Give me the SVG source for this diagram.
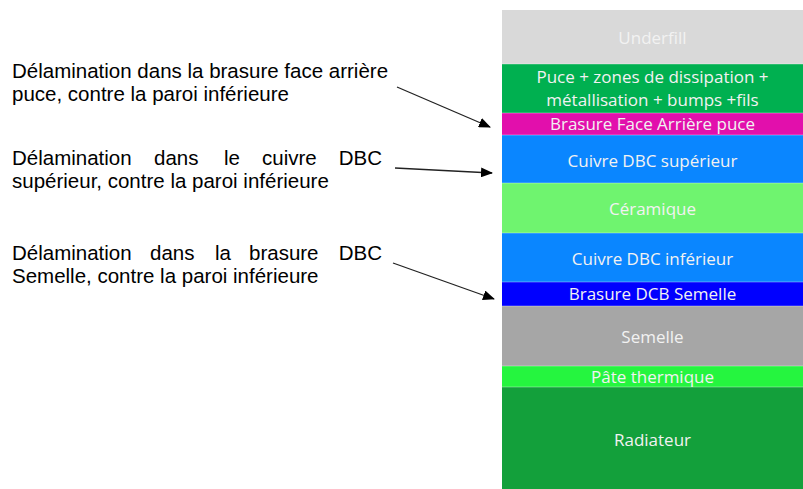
<svg xmlns="http://www.w3.org/2000/svg" width="803" height="489" viewBox="0 0 803 489">
<style>
.lbl{font-family:"Liberation Sans",Arial,sans-serif;font-size:20.5px;fill:#000}
.lay{font-family:"Open Sans","Noto Sans",sans-serif;font-size:17px;fill:#F2F2F2;text-anchor:middle}
.sep{stroke:#ffffff;stroke-opacity:0.35;stroke-width:1}
.con{stroke:#222;stroke-width:1.3;fill:none;marker-end:url(#ah)}
</style>
<defs>
<marker id="ah" viewBox="0 0 12 10" refX="11" refY="5" markerWidth="12" markerHeight="10" markerUnits="userSpaceOnUse" orient="auto">
<path d="M0,0 L12,5 L0,10 Z" fill="#000"/>
</marker>
</defs>
<rect width="803" height="489" fill="#fff"/>
<g id="stack">
<g id="underfill"><rect x="502" y="10" width="301" height="54" fill="#D9D9D9"/><text class="lay" x="652.5" y="44">Underfill</text></g>
<g id="puce"><rect x="502" y="64" width="301" height="49" fill="#00B050"/><text class="lay" x="652.5" y="83">Puce + zones de dissipation +</text><text class="lay" x="652.5" y="106">métallisation + bumps +fils</text></g>
<g id="brasure-face"><rect x="502" y="113" width="301" height="22" fill="#E20FAC"/><text class="lay" x="652.5" y="130">Brasure Face Arrière puce</text></g>
<g id="cuivre-sup"><rect x="502" y="135" width="301" height="48" fill="#0A86FF"/><text class="lay" x="652.5" y="167">Cuivre DBC supérieur</text></g>
<g id="ceramique"><rect x="502" y="183" width="301" height="50" fill="#6FF46F"/><text class="lay" x="652.5" y="215">Céramique</text></g>
<g id="cuivre-inf"><rect x="502" y="233" width="301" height="49" fill="#0A86FF"/><text class="lay" x="652.5" y="265">Cuivre DBC inférieur</text></g>
<g id="brasure-dcb"><rect x="502" y="282" width="301" height="24" fill="#0000FF"/><text class="lay" x="652.5" y="300">Brasure DCB Semelle</text></g>
<g id="semelle"><rect x="502" y="306" width="301" height="60" fill="#A6A6A6"/><text class="lay" x="652.5" y="343">Semelle</text></g>
<g id="pate"><rect x="502" y="366" width="301" height="21" fill="#25F53F"/><text class="lay" x="652.5" y="383">Pâte thermique</text></g>
<g id="radiateur"><rect x="502" y="387" width="301" height="102" fill="#13A03B"/><text class="lay" x="652.5" y="446">Radiateur</text></g>
<g id="separators">
<line class="sep" x1="502" y1="64" x2="803" y2="64"/>
<line class="sep" x1="502" y1="113" x2="803" y2="113"/>
<line class="sep" x1="502" y1="135" x2="803" y2="135"/>
<line class="sep" x1="502" y1="183" x2="803" y2="183"/>
<line class="sep" x1="502" y1="233" x2="803" y2="233"/>
<line class="sep" x1="502" y1="282" x2="803" y2="282"/>
<line class="sep" x1="502" y1="306" x2="803" y2="306"/>
<line class="sep" x1="502" y1="366" x2="803" y2="366"/>
<line class="sep" x1="502" y1="387" x2="803" y2="387"/>
</g>
</g>
<g id="label1">
<text class="lbl" x="12" y="78">Délamination dans la brasure face arrière</text>
<text class="lbl" x="12" y="101">puce, contre la paroi inférieure</text>
</g>
<g id="label2">
<text class="lbl" y="165"><tspan x="12">Délamination</tspan><tspan x="154">dans</tspan><tspan x="224">le</tspan><tspan x="262">cuivre</tspan><tspan x="382" text-anchor="end">DBC</tspan></text>
<text class="lbl" x="12" y="188">supérieur, contre la paroi inférieure</text>
</g>
<g id="label3">
<text class="lbl" y="260"><tspan x="12">Délamination</tspan><tspan x="150">dans</tspan><tspan x="215">la</tspan><tspan x="249">brasure</tspan><tspan x="382" text-anchor="end">DBC</tspan></text>
<text class="lbl" x="12" y="283">Semelle, contre la paroi inférieure</text>
</g>
<g id="connectors">
<path class="con" d="M397,87 L490,127"/>
<path class="con" d="M395,168 L492,173"/>
<path class="con" d="M393,263 L494,299"/>
</g>
</svg>
